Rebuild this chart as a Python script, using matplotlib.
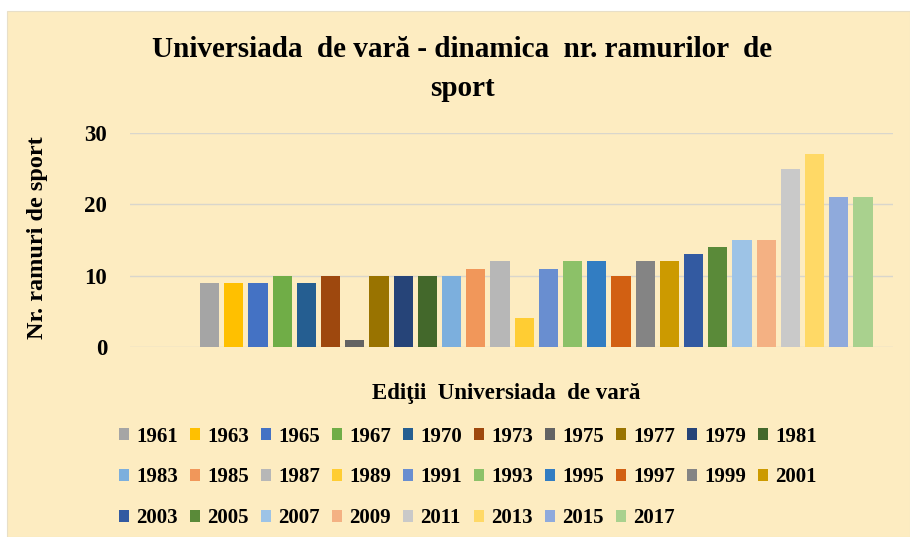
import matplotlib
matplotlib.use("Agg")
import matplotlib.pyplot as plt
from matplotlib.patches import Rectangle, Patch

years = ["1961", "1963", "1965", "1967", "1970", "1973", "1975", "1977", "1979", "1981",
         "1983", "1985", "1987", "1989", "1991", "1993", "1995", "1997", "1999", "2001",
         "2003", "2005", "2007", "2009", "2011", "2013", "2015", "2017"]
values = [9, 9, 9, 10, 9, 10, 1, 10, 10, 10,
          10, 11, 12, 4, 11, 12, 12, 10, 12, 12,
          13, 14, 15, 15, 25, 27, 21, 21]
colors = ["#A5A5A5", "#FFC000", "#4472C4", "#70AD47", "#255E91", "#9E480E", "#636363", "#997300", "#264478", "#43682B",
          "#7CAFDD", "#F1975A", "#B7B7B7", "#FFCD33", "#698ED0", "#8CC168", "#327DC2", "#D26012", "#848484", "#CC9A00",
          "#335AA1", "#5A8A39", "#9DC3E6", "#F4B183", "#C9C9C9", "#FFD966", "#8FAADC", "#A9D18E"]
y_ticks = [0, 10, 20, 30]

title = "Universiada  de vară - dinamica  nr. ramurilor  de\nsport"
x_label = "Ediţii  Universiada  de vară"
y_label = "Nr. ramuri de sport"

W, H = 910, 537
fig = plt.figure(figsize=(W / 100, H / 100), dpi=100, facecolor="white")
bg = "#FDECC1"
fig.patches.append(Rectangle((7 / W, 0), 1 - 7 / W, 1 - 11 / H, transform=fig.transFigure,
                             facecolor=bg, edgecolor="#E8DFC8", lw=0.8, zorder=-5))

font = ["Liberation Serif", "DejaVu Serif"]

ax = fig.add_axes([130 / W, 1 - 347 / H, 763 / W, 214 / H])
ax.set_facecolor("none")
ax.set_zorder(2)
for i, (v, c) in enumerate(zip(values, colors)):
    ax.bar(i, v, width=0.8, color=c, zorder=3)
ax.set_xlim(-3.29, 28.24)
ax.set_ylim(0, 30)
ax.set_yticks(y_ticks)
ax.set_xticks([])
ax.grid(axis="y", color="#D9D6CC", lw=1, zorder=0)
for s in ax.spines.values():
    s.set_visible(False)
ax.tick_params(axis="y", length=0, pad=16.5)
for lab in ax.get_yticklabels():
    lab.set_fontfamily(font)
    lab.set_fontweight("bold")
    lab.set_fontsize(16.5)

fig.text(38 / W, 1 - 238 / H, y_label, rotation=90, ha="center", va="center",
         fontfamily=font, fontweight="bold", fontsize=17.5)
fig.text(506 / W, 1 - 394 / H, x_label, ha="center", va="center",
         fontfamily=font, fontweight="bold", fontsize=16.5)
fig.text(462 / W, 1 - 69 / H, title, ha="center", va="center", linespacing=1.6,
         fontfamily=font, fontweight="bold", fontsize=21)

# reorder so the legend reads row by row (matplotlib fills column by column)
ncol = 10
order = []
for j in range(ncol):
    k = j
    while k < len(years):
        order.append(k)
        k += ncol
handles = [Patch(facecolor=colors[k], edgecolor="none") for k in order]
labels = [years[k] for k in order]
leg = fig.legend(handles, labels, loc="center", bbox_to_anchor=(468 / W, 1 - 477.5 / H),
                 ncol=ncol, frameon=False, handlelength=0.5, handleheight=0.5,
                 handletextpad=0.35, columnspacing=0.55, labelspacing=1.0,
                 prop={"family": font, "weight": "bold", "size": 15})

fig.savefig("out.png", dpi=100, facecolor="white")
